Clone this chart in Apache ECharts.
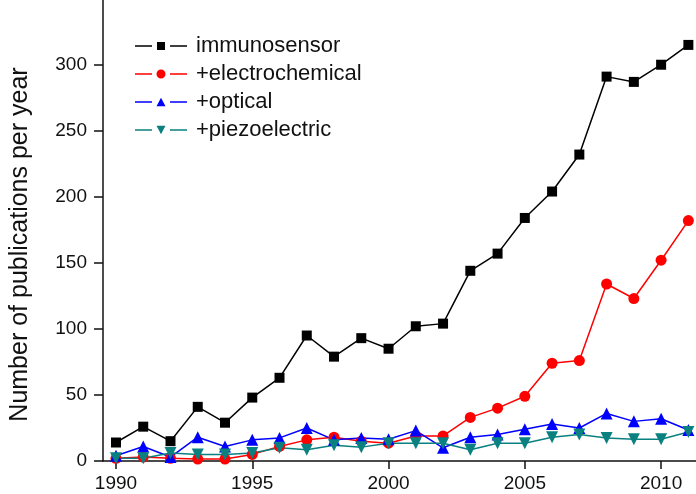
<!DOCTYPE html>
<html>
<head>
<meta charset="utf-8">
<script src="https://cdn.jsdelivr.net/npm/echarts@6/dist/echarts.min.js"></script>
<style>html,body{margin:0;padding:0;background:#fff}#c{width:696px;height:494px}</style>
</head>
<body>
<div id="c"></div>
<script>
const years = [1990,1991,1992,1993,1994,1995,1996,1997,1998,1999,2000,2001,2002,2003,2004,2005,2006,2007,2008,2009,2010,2011];
const immunosensor = [14,26,15,41,29,48,63,95,79,93,85,102,104,144,157,184,204,232,291,287,300,315];
const electrochemical = [2,3,2,1.5,1.5,5,11,16,18,15,13.5,19,19,33,40,49,74,76,134,123,152,182];
const optical = [4,11,3,18,11,16,17.5,25,16,17.5,16.5,23,10,18,20,24,28,25,36,30,32,23.5];
const piezoelectric = [2,2,6,5,5,6,10,8.5,12,10.5,13.5,13.5,13.5,8.5,13.5,13.5,18,20,17.5,16.5,16.5,22];
const xTicks = [1990,1995,2000,2005,2010];
const yTicks = [0,50,100,150,200,250,300];
const seriesNames = ['immunosensor','+electrochemical','+optical','+piezoelectric'];

const FONT = 'Liberation Sans';
const pair = arr => years.map((y,i)=>[y,arr[i]]);
const mk = (name, data, color, symbol, size, rot) => ({
  name, type:'line', data: pair(data), clip:false,
  symbol, symbolSize:size, symbolRotate: rot||0,
  lineStyle:{color, width:1.5},
  itemStyle:{color, borderWidth:0},
  z: 2
});
const seg = 'M0,4.3L17,4.3L17,5.7L0,5.7Z M35,4.3L52,4.3L52,5.7L35,5.7Z ';
const icons = [
  'path://' + seg + 'M22,1L30,1L30,9L22,9Z',
  'path://' + seg + 'M30.5,5A4.5,4.5 0 1 1 21.5,5A4.5,4.5 0 1 1 30.5,5Z',
  'path://' + seg + 'M21.5,9.2L30.5,9.2L26,0.8Z',
  'path://' + seg + 'M21.5,0.8L30.5,0.8L26,9.2Z'
];

const chart = echarts.init(document.getElementById('c'), null, {renderer:'canvas'});
chart.setOption({
  animation:false,
  backgroundColor:'#fff',
  grid:{left:102, right:0, top:0, bottom:33, containLabel:false},
  legend:{
    orient:'vertical', left:130, top:30, itemWidth:52, itemHeight:10, itemGap:6,
    itemStyle:{borderWidth:0},
    textStyle:{fontFamily:FONT, fontSize:22, color:'#111', padding:[0,0,0,4]},
    data: seriesNames.map((n,i)=>({name:n, icon:icons[i]}))
  },
  xAxis:{
    type:'value', min:1989.524, max:2011.28,
    axisLine:{lineStyle:{color:'#111', width:1.5}},
    axisTick:{show:true, inside:false, length:8, lineStyle:{color:'#111', width:1.5}, customValues:xTicks},
    axisLabel:{customValues:xTicks, formatter:v=>String(v), fontFamily:FONT, fontSize:19, color:'#111', margin:13},
    splitLine:{show:false}
  },
  yAxis:{
    type:'value', min:0, max:349,
    name:'Number of publications per year', nameLocation:'middle', nameGap:70,
    nameTextStyle:{fontFamily:FONT, fontSize:25, color:'#111', padding:[0,28,0,0]},
    axisLine:{show:true, lineStyle:{color:'#111', width:1.5}},
    axisTick:{show:true, inside:false, length:9, lineStyle:{color:'#111', width:1.5}, customValues:yTicks},
    axisLabel:{customValues:yTicks, formatter:v=>String(v), fontFamily:FONT, fontSize:19, color:'#111', margin:16},
    splitLine:{show:false}
  },
  series:[
    mk(seriesNames[0], immunosensor, '#000000', 'rect', 10),
    mk(seriesNames[1], electrochemical, '#ff0000', 'circle', 11),
    mk(seriesNames[2], optical, '#0000ff', 'triangle', 12),
    mk(seriesNames[3], piezoelectric, '#0a8080', 'triangle', 12, 180)
  ]
});
</script>
</body>
</html>
